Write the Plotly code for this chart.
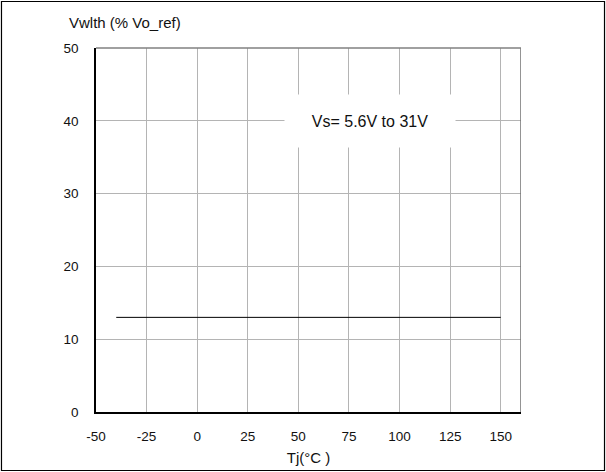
import plotly.graph_objects as go

temp_c = [-40, 150]
vwlth_pct = [13, 13]
x_ticks = [-50, -25, 0, 25, 50, 75, 100, 125, 150]
y_ticks = [0, 10, 20, 30, 40, 50]

font_family = "Liberation Sans, Arial, sans-serif"

fig = go.Figure()
fig.add_trace(go.Scatter(x=temp_c, y=vwlth_pct, mode="lines",
                         line=dict(color="black", width=1), showlegend=False,
                         hoverinfo="skip"))

fig.update_layout(
    width=606, height=472,
    margin=dict(l=96, r=85, t=48, b=60, autoexpand=False),
    paper_bgcolor="white", plot_bgcolor="white",
    font=dict(family=font_family, size=13.5, color="#111"),
    xaxis=dict(range=[-50, 160], tickvals=x_ticks, ticktext=[str(v) for v in x_ticks],
               showgrid=True, gridcolor="#b4b4b4", gridwidth=1,
               showline=True, linecolor="black", linewidth=1.5,
               zeroline=False, ticks="", ticklabelstandoff=11, automargin=False,
               title=dict(text="Tj(°C )", font=dict(size=15), standoff=10)),
    yaxis=dict(range=[0, 50], tickvals=y_ticks, ticktext=[str(v) for v in y_ticks],
               showgrid=True, gridcolor="#b4b4b4", gridwidth=1,
               showline=True, linecolor="black", linewidth=1.5,
               zeroline=False, ticks="", ticklabelstandoff=13, automargin=False),
    shapes=[
        dict(type="line", xref="x", yref="paper", x0=160, x1=160, y0=0, y1=1,
             line=dict(color="#707070", width=1.5)),
        dict(type="line", xref="paper", yref="paper", x0=0, x1=1, y0=1, y1=1,
             line=dict(color="#808080", width=1.5)),
        dict(type="rect", xref="paper", yref="paper", x0=-0.2224, x1=1.1965,
             y0=-0.1607, y1=1.1277, line=dict(color="black", width=1.2),
             fillcolor="rgba(0,0,0,0)"),
    ],
    annotations=[
        dict(x=85.5, y=40, xref="x", yref="y", text="Vs= 5.6V to 31V",
             showarrow=False, bgcolor="white", width=168, height=50,
             font=dict(size=16, color="#111")),
        dict(x=-0.0682, y=1.0687, xref="paper", yref="paper", text="Vwlth (% Vo_ref)",
             showarrow=False, xanchor="left", yanchor="middle",
             font=dict(size=15, color="#111")),
    ],
)

fig.write_html("out.html", config={"displayModeBar": False},
               post_script="document.body.style.margin='0';document.body.style.overflow='hidden';")
